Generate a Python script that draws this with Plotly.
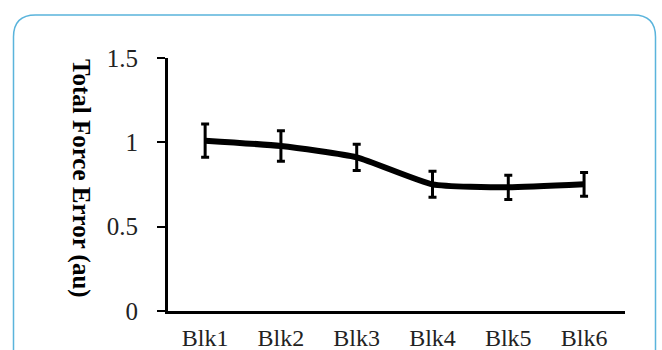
import plotly.graph_objects as go

blocks = ["Blk1", "Blk2", "Blk3", "Blk4", "Blk5", "Blk6"]
force_error = [1.01, 0.978, 0.911, 0.751, 0.733, 0.751]
error_sem = [0.098, 0.09, 0.078, 0.077, 0.072, 0.07]
y_ticks = [0, 0.5, 1, 1.5]
y_tick_labels = ["0", "0.5", "1", "1.5"]

W, H = 662, 350
L, R, T, B = 168, 37, 58, 39
PW, PH = W - L - R, H - T - B


def px(x):
    return (x - L) / PW


def py(y):
    return (H - B - y) / PH


fig = go.Figure()
fig.add_trace(go.Scatter(
    x=blocks, y=force_error,
    mode="lines",
    line=dict(color="black", width=6, shape="spline", smoothing=0.5),
    error_y=dict(type="data", array=error_sem, visible=True,
                 color="black", thickness=3, width=4),
    showlegend=False,
))

# rounded frame
x0, x1, y0, y1, r = 13.5, 655.5, 15, 380, 22
path = (f"M {px(x0)},{py(y1)} L {px(x0)},{py(y0 + r)} "
        f"Q {px(x0)},{py(y0)} {px(x0 + r)},{py(y0)} "
        f"L {px(x1 - r)},{py(y0)} "
        f"Q {px(x1)},{py(y0)} {px(x1)},{py(y0 + r)} "
        f"L {px(x1)},{py(y1)}")

fig.update_layout(
    width=W, height=H,
    margin=dict(l=L, r=R, t=T, b=B, pad=0, autoexpand=False),
    paper_bgcolor="white", plot_bgcolor="white",
    font=dict(family="Liberation Serif", color="#222"),
    shapes=[dict(type="path", path=path, xref="paper", yref="paper",
                 line=dict(color="#5ab4dc", width=1.5), layer="above")],
    annotations=[dict(text="<b>Total Force Error (au)</b>", textangle=90,
                      x=px(65), y=py(178), xref="paper", yref="paper",
                      showarrow=False,
                      font=dict(family="Liberation Serif", size=25, color="black"))],
)
fig.update_xaxes(
    range=[-0.49, 5.54], showline=True, linecolor="black", linewidth=3,
    ticks="", showgrid=False, zeroline=False, automargin=False,
    tickfont=dict(size=24, color="#222"), ticklabelstandoff=3,
)
fig.update_yaxes(
    range=[0, 1.5], tickvals=y_ticks, ticktext=y_tick_labels,
    showline=True, linecolor="black", linewidth=3,
    ticks="outside", ticklen=8, tickwidth=2, tickcolor="black",
    showgrid=False, zeroline=False, automargin=False,
    tickfont=dict(size=25, color="#222"), ticklabelstandoff=14,
)

fig.write_html(
    "out.html",
    config={"displayModeBar": False},
    post_script="document.body.style.margin='0';document.body.style.overflow='hidden';",
)
